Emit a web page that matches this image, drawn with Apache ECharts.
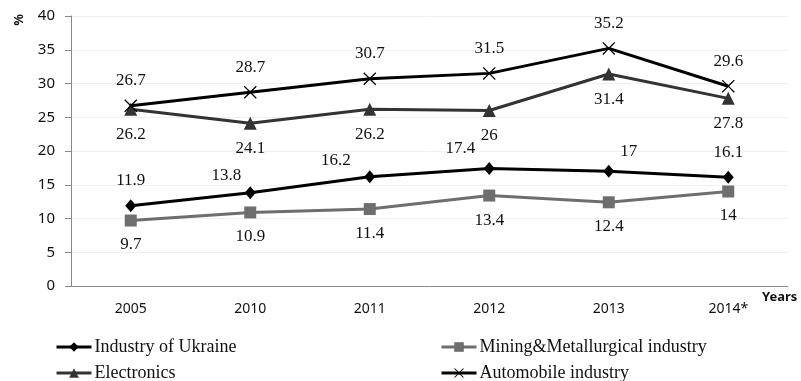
<!DOCTYPE html>
<html>
<head>
<meta charset="utf-8">
<script src="https://cdn.jsdelivr.net/npm/echarts@6/dist/echarts.min.js"></script>
<style>
html,body{margin:0;padding:0;background:#fff;}
#chart{width:801px;height:381px;}
</style>
</head>
<body>
<div id="chart"></div>
<script>
// ---- data ----
var categories = ['2005', '2010', '2011', '2012', '2013', '2014*'];
var industryUkraine = [11.9, 13.8, 16.2, 17.4, 17, 16.1];
var miningMetallurgical = [9.7, 10.9, 11.4, 13.4, 12.4, 14];
var electronics = [26.2, 24.1, 26.2, 26, 31.4, 27.8];
var automobile = [26.7, 28.7, 30.7, 31.5, 35.2, 29.6];
var yTicks = [0, 5, 10, 15, 20, 25, 30, 35, 40];
var seriesNames = ['Industry of Ukraine', 'Mining&Metallurgical industry', 'Electronics', 'Automobile industry'];

// ---- label tweaks (position only) ----
var industryLabelOffsets = [[0, 0], [-24, 8], [-34, 9], [-29, 5], [20, 5], [0, 0]];

var xSymbol = 'path://M0,7L7,0L50,43L93,0L100,7L57,50L100,93L93,100L50,57L7,100L0,93L43,50Z';
var labelFont = { fontFamily: '"Liberation Serif", "Times New Roman", serif', fontSize: 17, color: '#111' };

function withOffsets(values, offsets) {
  return values.map(function (v, i) {
    var o = offsets[i];
    if (!o || (o[0] === 0 && o[1] === 0)) return v;
    return { value: v, label: { offset: o } };
  });
}

// legend slots: [left, top] per series
var legendSlots = [[55, 337], [440, 337], [55, 363], [440, 363]];
var legends = seriesNames.map(function (name, i) {
  return {
    orient: 'horizontal',
    left: legendSlots[i][0], top: legendSlots[i][1],
    padding: 0,
    itemWidth: 35, itemHeight: 12,
    lineStyle: { width: 3 },
    textStyle: { fontFamily: '"Liberation Serif", "Times New Roman", serif', fontSize: 18, color: '#111', lineHeight: 20, padding: [0, 0, 0, -2] },
    data: [name]
  };
});

var chart = echarts.init(document.getElementById('chart'), null, { renderer: 'canvas' });
chart.setOption({
  animation: false,
  backgroundColor: '#fff',
  grid: { left: 71, right: 13, top: 16, bottom: 95, containLabel: false, outerBoundsMode: 'none' },
  xAxis: {
    type: 'category',
    data: categories,
    boundaryGap: true,
    axisLine: { show: true, lineStyle: { color: '#8a8a8a', width: 1 } },
    axisTick: { show: false },
    axisLabel: { margin: 16, fontFamily: '"Noto Sans", sans-serif', fontSize: 14, color: '#111' },
    name: 'Years',
    nameLocation: 'end',
    nameGap: -26,
    nameTextStyle: { fontFamily: '"Noto Sans", sans-serif', fontWeight: 'bold', fontSize: 13, color: '#111', verticalAlign: 'top', padding: [5, 0, 0, 0] }
  },
  yAxis: {
    type: 'value',
    min: yTicks[0],
    max: yTicks[yTicks.length - 1],
    interval: yTicks[1] - yTicks[0],
    axisLine: { show: true, lineStyle: { color: '#8a8a8a', width: 1 } },
    axisTick: { show: true, length: 6, lineStyle: { color: '#8a8a8a' } },
    axisLabel: { margin: 16, fontFamily: '"Noto Sans", sans-serif', fontSize: 15, color: '#111' },
    splitLine: { show: true, lineStyle: { color: '#f0f0f0', width: 1 } }
  },
  graphic: [{
    type: 'text',
    x: 19, y: 20,
    rotation: Math.PI / 2,
    style: { text: '%', fontFamily: '"Noto Sans", sans-serif', fontWeight: 'bold', fontSize: 13, fill: '#111', align: 'center', verticalAlign: 'middle' }
  }],
  legend: legends,
  series: [{
    name: seriesNames[0],
    type: 'line',
    data: withOffsets(industryUkraine, industryLabelOffsets),
    symbol: 'diamond', symbolSize: [11, 13],
    lineStyle: { color: '#000', width: 3 },
    itemStyle: { color: '#000' },
    label: Object.assign({ show: true, position: 'top', distance: 10 }, labelFont),
    z: 4
  }, {
    name: seriesNames[1],
    type: 'line',
    data: miningMetallurgical,
    symbol: 'rect', symbolSize: 12,
    lineStyle: { color: '#6e6e6e', width: 3 },
    itemStyle: { color: '#6e6e6e' },
    label: Object.assign({ show: true, position: 'bottom', distance: 10 }, labelFont),
    z: 3
  }, {
    name: seriesNames[2],
    type: 'line',
    data: electronics,
    symbol: 'triangle', symbolSize: 13,
    lineStyle: { color: '#333', width: 3 },
    itemStyle: { color: '#333' },
    label: Object.assign({ show: true, position: 'bottom', distance: 10 }, labelFont),
    z: 3
  }, {
    name: seriesNames[3],
    type: 'line',
    data: automobile,
    symbol: xSymbol, symbolSize: 13,
    lineStyle: { color: '#000', width: 3 },
    itemStyle: { color: '#000' },
    label: Object.assign({ show: true, position: 'top', distance: 10 }, labelFont),
    z: 4
  }]
});
</script>
</body>
</html>
